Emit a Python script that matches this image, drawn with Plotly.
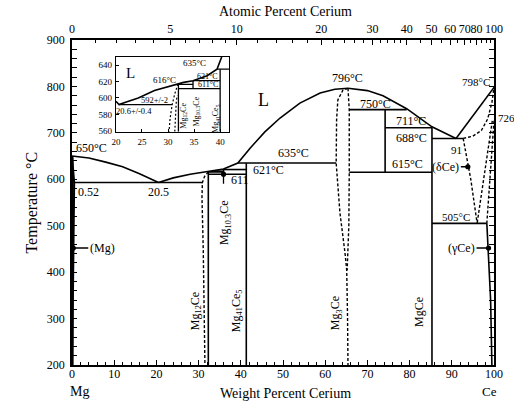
import plotly.graph_objects as go

# ---------------- data: weight % Ce  /  temperature (°C) ----------------
# liquidus branches
liq_mg_x = [0, 4, 8, 12, 16, 20.5]
liq_mg_y = [650, 646, 637, 627, 612, 593]
liq_mid_x = [20.5, 24, 28, 32.3, 35.9, 39.3, 42.2, 45.7, 49.3, 54.0, 58.8, 62.3, 65.4]
liq_mid_y = [593, 603, 611, 617, 622, 635, 667, 702, 732, 764, 786, 794, 796]
liq_ce_x = [65.4, 70, 73.7, 79.3, 85.3, 91]
liq_ce_y = [796, 791, 780, 752, 713, 688]
liq_end_x = [91, 100]
liq_end_y = [688, 798]

# invariant isotherms
iso_T = [593, 635, 621, 616, 611, 750, 711, 615, 688, 505]
iso_x0 = [0.52, 39.3, 35.9, 32.3, 32.3, 65.7, 74.2, 65.7, 85.3, 85.3]
iso_x1 = [30.9, 62.6, 41.3, 35.9, 41.3, 79.3, 85.3, 85.3, 92.7, 98.3]

# compound lines (vertical)
vert_x = [32.3, 35.9, 41.3, 74.2, 85.3]
vert_y0 = [616, 611, 635, 615, 200]
vert_y1 = [200, 621, 200, 750, 711]

# (Mg) solid solution
mg_edge_x = [0, 0]
mg_edge_y = [650, 200]
mg_solvus_x = [0, 0.52, 0.4, 0.25, 0.1, 0.05]
mg_solvus_y = [650, 593, 500, 400, 300, 200]

# dashed phase boundaries
mg12_dash_x = [32.3, 31.4, 30.9, 30.8, 31.1, 31.4, 31.5]
mg12_dash_y = [616, 606, 593, 560, 450, 300, 200]
mg3_left_x = [65.4, 64.2, 63.0, 62.7, 62.6, 63.5, 64.7, 65.1, 65.3, 65.4]
mg3_left_y = [796, 792, 771, 728, 635, 527, 441, 404, 300, 200]
mg3_right_x = [65.4, 65.7, 65.7, 65.6, 65.2]
mg3_right_y = [796, 750, 615, 500, 404]
dce_solidus_x = [92.7, 95, 97, 98.5, 99.5, 100]
dce_solidus_y = [688, 693, 705, 730, 765, 798]
dce_solvus_x = [92.7, 94.5, 96]
dce_solvus_y = [688, 600, 505]
dg1_x = [99.6, 96]
dg1_y = [726, 505]
dg2_x = [100, 98.3]
dg2_y = [726, 505]
gce_x = [98.3, 99.2, 99.5]
gce_y = [505, 340, 200]

# small grey two-phase field near 616-621 °C
grey_x = [32.5, 35.9, 35.9, 32.5, 32.5]
grey_y = [616, 616, 621, 617.5, 616]

# inset (Mg-rich detail)
ins_liq_x = [20, 20.6, 22, 24.3, 27.4, 30, 31.9, 33, 34.8, 37.5, 39.4, 40.3]
ins_liq_y = [596, 592, 595, 600, 609, 614, 617, 619, 621, 627, 635, 650]
ins_iso_T = [592, 635, 621, 616.5, 611.5]
ins_iso_x0 = [20.6, 39.4, 34.8, 32.0, 32.0]
ins_iso_x1 = [30.8, 41.7, 40.0, 34.8, 40.0]
ins_vert_x = [32.0, 34.8, 40.0]
ins_vert_y0 = [617, 621, 635]
ins_vert_y1 = [559, 611.5, 559]
ins_dash1_x = [31.9, 31.3, 30.8, 30.4, 30.2]
ins_dash1_y = [617, 605, 592, 575, 559]
ins_dash2_x = [31.3, 31.4, 31.6, 31.8]
ins_dash2_y = [559, 580, 597, 603]

# axis ticks
wt_ticks = list(range(0, 101, 10))
temp_ticks = list(range(200, 901, 100))
at_major = [0, 5, 10, 20, 30, 40, 50, 60, 70, 80, 100]
at_minor = [1, 2, 3, 4, 6, 7, 8, 9, 12, 14, 16, 18, 22, 24, 26, 28, 32, 34, 36, 38,
            45, 55, 65, 75, 85, 90, 95]
ins_xticks = [20, 25, 30, 35, 40]
ins_yticks = [560, 580, 600, 620, 640]

M_CE, M_MG = 140.12, 24.305


def at2wt(a):
    return 100.0 * a * M_CE / (a * M_CE + (100 - a) * M_MG)


FONT = "Liberation Serif"
fig = go.Figure()
solid = dict(color='black', width=1.6)
dashed = dict(color='black', width=1.4, dash='3px,2px')


def add(x, y, line, xa='x', ya='y', **kw):
    fig.add_trace(go.Scatter(x=x, y=y, mode='lines', line=line, hoverinfo='skip',
                             showlegend=False, xaxis=xa, yaxis=ya, **kw))


def segs_h(x0, x1, ys):
    xs, yv = [], []
    for a, b, t in zip(x0, x1, ys):
        xs += [a, b, None]
        yv += [t, t, None]
    return xs, yv


def segs_v(xv, y0, y1):
    xs, yv = [], []
    for x, a, b in zip(xv, y0, y1):
        xs += [x, x, None]
        yv += [a, b, None]
    return xs, yv


# grey field
fig.add_trace(go.Scatter(x=grey_x, y=grey_y, mode='lines', fill='toself',
                         fillcolor='#9a9a9a', line=dict(color='black', width=0.8),
                         hoverinfo='skip', showlegend=False))

# main solid lines
add(liq_mg_x, liq_mg_y, solid)
add(liq_mid_x, liq_mid_y, solid)
add(liq_ce_x, liq_ce_y, solid)
add(liq_end_x, liq_end_y, solid)
hx, hy = segs_h(iso_x0, iso_x1, iso_T)
add(hx, hy, solid)
vx, vy = segs_v(vert_x, vert_y0, vert_y1)
add(vx, vy, solid)
add(mg_edge_x, mg_edge_y, dict(color='black', width=3))
add(mg_solvus_x, mg_solvus_y, dict(color='black', width=2))
add(gce_x, gce_y, solid)

# dashed
for xx, yy in [(mg12_dash_x, mg12_dash_y), (mg3_left_x, mg3_left_y),
               (mg3_right_x, mg3_right_y), (dce_solidus_x, dce_solidus_y),
               (dce_solvus_x, dce_solvus_y), (dg1_x, dg1_y), (dg2_x, dg2_y)]:
    add(xx, yy, dashed)

# inset
add(ins_liq_x, ins_liq_y, solid, 'x3', 'y3')
hx, hy = segs_h(ins_iso_x0, ins_iso_x1, ins_iso_T)
add(hx, hy, dict(color='black', width=1.3), 'x3', 'y3')
vx, vy = segs_v(ins_vert_x, ins_vert_y0, ins_vert_y1)
add(vx, vy, dict(color='black', width=1.3), 'x3', 'y3')
add(ins_dash1_x, ins_dash1_y, dict(color='black', width=1.2, dash='2px,2px'), 'x3', 'y3')
add(ins_dash2_x, ins_dash2_y, dict(color='black', width=1.2, dash='2px,2px'), 'x3', 'y3')

tf = dict(family=FONT, size=12, color='black')
common_ax = dict(showgrid=False, zeroline=False, showline=True, linecolor='black',
                 linewidth=1.5, ticks='inside', ticklen=5, tickcolor='black',
                 tickfont=tf, tickangle=0)

fig.update_layout(
    width=514, height=403,
    margin=dict(l=72, r=20, t=40, b=38, pad=0),
    paper_bgcolor='white', plot_bgcolor='white',
    font=dict(family=FONT, color='black'),
    xaxis=dict(range=[0, 100], tickvals=wt_ticks, ticklabelstandoff=-3,
               minor=dict(dtick=2, ticklen=3, ticks='inside', tickcolor='black'),
               **common_ax),
    xaxis2=dict(range=[0, 100], overlaying='x', side='top', anchor='y',
                tickvals=[at2wt(a) for a in at_major],
                ticktext=[str(a) for a in at_major],
                ticklabelstandoff=0,
                minor=dict(tickvals=[at2wt(a) for a in at_minor], ticklen=3,
                           ticks='inside', tickcolor='black'),
                **common_ax),
    yaxis=dict(range=[200, 900], tickvals=temp_ticks, mirror='allticks',
               ticklabelstandoff=3,
               minor=dict(dtick=20, ticklen=3, ticks='inside', tickcolor='black'),
               **common_ax),
    xaxis3=dict(domain=[0.104, 0.372], anchor='y3', range=[20, 41.7],
                tickvals=ins_xticks, showgrid=False, zeroline=False, showline=True,
                mirror=True, linecolor='black', linewidth=1.3, ticks='inside',
                ticklen=3, tickcolor='black', ticklabelstandoff=1, tickangle=0,
                tickfont=dict(family=FONT, size=9, color='black')),
    yaxis3=dict(domain=[0.718, 0.948], anchor='x3', range=[559, 650],
                tickvals=ins_yticks, showgrid=False, zeroline=False, showline=True,
                mirror=True, linecolor='black', linewidth=1.3, ticks='inside',
                ticklen=3, tickcolor='black', ticklabelstandoff=1,
                tickfont=dict(family=FONT, size=9, color='black')),
)
# dummy trace for the top axis
fig.add_trace(go.Scatter(x=[None], y=[None], xaxis='x2', yaxis='y', showlegend=False,
                         hoverinfo='skip'))

ann = []


def t(text, x, y, size=12, xa='center', ya='middle', ref=('x', 'y'), angle=0):
    ann.append(dict(text=text, x=x, y=y, xref=ref[0], yref=ref[1], showarrow=False,
                    xanchor=xa, yanchor=ya, textangle=angle,
                    font=dict(family=FONT, size=size, color='black')))


# axis titles
t('Atomic Percent Cerium', 0.507, 1.088, 14, ref=('paper', 'paper'))
t('Weight Percent Cerium', 0.507, -0.087, 14, ref=('paper', 'paper'))
t('Temperature °C', -0.097, 0.5, 16, ref=('paper', 'paper'), angle=-90)
t('Mg', -0.01, -0.08, 14, xa='left', ref=('paper', 'paper'))
t('Ce', 0.99, -0.083, 13, ref=('paper', 'paper'))
t('726', 1.004, 0.759, 11, xa='left', ref=('paper', 'paper'))

# main labels
t('L', 45.3, 771, 18)
t('650°C', 0.4, 667, 12, xa='left')
t('0.52', 0.9, 573, 12, xa='left')
t('20.5', 20.6, 573, 12)
t('611', 37.2, 598, 12, xa='left')
t('635°C', 52.6, 657, 12)
t('621°C', 42.5, 620, 12, xa='left')
t('796°C', 65.4, 818, 12)
t('750°C', 71.8, 762, 12)
t('711°C', 80.3, 725, 12)
t('688°C', 84.5, 689, 12, xa='right')
t('91', 91.0, 664, 11)
t('615°C', 79.5, 632, 12)
t('505°C', 90.9, 519, 11)
t('798°C', 99.5, 810, 11, xa='right')
t('Mg<sub>12</sub>Ce', 29.4, 316, 12, angle=-90)
t('Mg<sub>41</sub>Ce<sub>5</sub>', 39.1, 316, 12, angle=-90)
t('Mg<sub>10.3</sub>Ce', 36.3, 506, 12, angle=-90)
t('Mg<sub>3</sub>Ce', 62.6, 312, 12, angle=-90)
t('MgCe', 82.2, 314, 12, angle=-90)


# labels with arrows
def arrow_label(text, x, y, ax, ay, xa='left'):
    ann.append(dict(text=text, x=x, y=y, xref='x', yref='y', ax=ax, ay=ay,
                    axref='pixel', ayref='pixel', showarrow=True, arrowhead=6,
                    arrowsize=1, arrowwidth=1.3, arrowcolor='black',
                    xanchor=xa, yanchor='middle', standoff=0,
                    font=dict(family=FONT, size=12, color='black')))


arrow_label('(Mg)', 0.3, 452, 15, 0)
arrow_label('(δCe)', 93.8, 627, -7, 0, 'right')
arrow_label('(γCe)', 98.7, 452, -12, 0, 'right')
ann.append(dict(text=' ', x=35.9, y=611, xref='x', yref='y', ax=0, ay=14,
                showarrow=True, arrowhead=6, arrowsize=1, arrowwidth=1.3,
                arrowcolor='black', font=dict(size=6)))


# inset labels
def ti(text, x, y, size=9, angle=0, xa='center'):
    ann.append(dict(text=text, x=x, y=y, xref='x3', yref='y3', showarrow=False,
                    xanchor=xa, textangle=angle,
                    font=dict(family=FONT, size=size, color='black')))


ti('L', 22.8, 630, 15)
ti('635°C', 35.0, 642, 9)
ti('616°C', 29.3, 622, 9)
ti('621°C', 37.6, 626, 8)
ti('611°C', 37.6, 617, 8)
ti('592+/-2', 27.4, 597.5, 8.5)
ti('20.6+/-0.4', 23.4, 584, 8.5)
ti('Mg<sub>12</sub>Ce', 33.0, 578, 8, -90)
ti('Mg<sub>10.3</sub>Ce', 35.5, 583, 8, -90)
ti('Mg<sub>41</sub>Ce<sub>5</sub>', 39.1, 575, 8, -90)

fig.update_layout(annotations=ann)
fig.write_html('out.html')
